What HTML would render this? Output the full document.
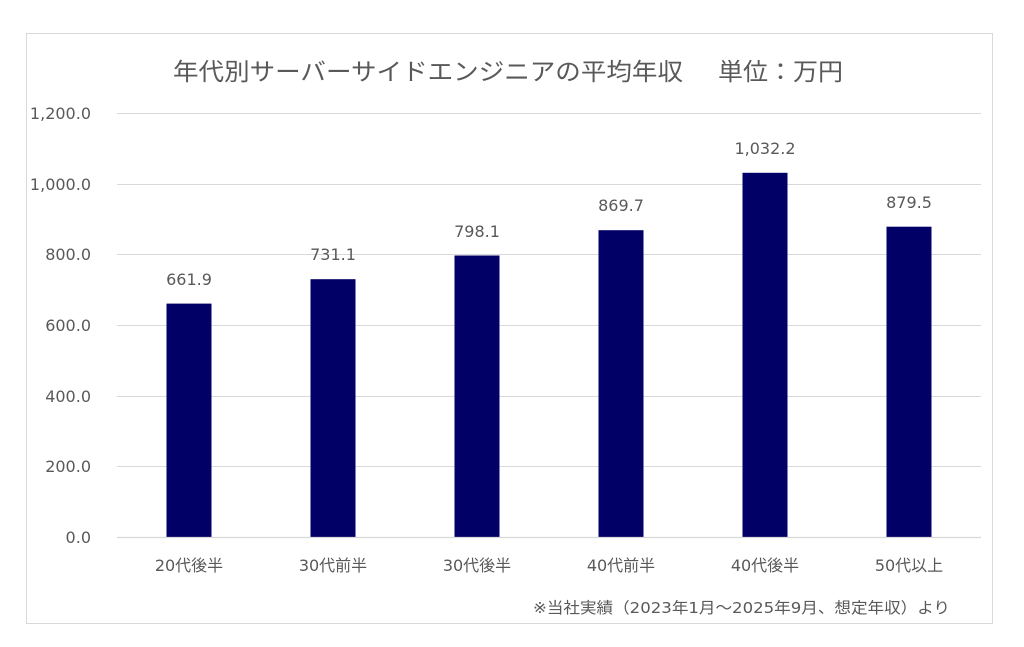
<!DOCTYPE html>
<html>
<head>
<meta charset="utf-8">
<style>
  html,body{margin:0;padding:0;background:#fff;}
  svg{display:block;}
  text{fill:#595959;}
  .n{font-family:"DejaVu Sans","Liberation Sans","Noto Sans CJK JP",sans-serif;font-size:16px;}
  .j{font-family:"DejaVu Sans","Noto Sans CJK JP",sans-serif;font-size:16px;}
</style>
</head>
<body>
<svg width="1024" height="647" viewBox="0 0 1024 647" xmlns="http://www.w3.org/2000/svg">
  <rect x="0" y="0" width="1024" height="647" fill="#fff"/>
  <rect x="26.5" y="33.5" width="966" height="590" fill="#fff" stroke="#d9d9d9" stroke-width="1"/>

  <!-- title -->
  <text x="173" y="80" font-family="'Noto Sans CJK JP',sans-serif" font-size="24" textLength="510" lengthAdjust="spacingAndGlyphs">年代別サーバーサイドエンジニアの平均年収</text>
  <text x="718" y="80" font-family="'Noto Sans CJK JP',sans-serif" font-size="24" textLength="125" lengthAdjust="spacingAndGlyphs">単位：万円</text>

  <!-- gridlines -->
  <g stroke="#d9d9d9" stroke-width="1">
    <line x1="117" y1="113.5" x2="981" y2="113.5"/>
    <line x1="117" y1="184.5" x2="981" y2="184.5"/>
    <line x1="117" y1="254.5" x2="981" y2="254.5"/>
    <line x1="117" y1="325.5" x2="981" y2="325.5"/>
    <line x1="117" y1="396.5" x2="981" y2="396.5"/>
    <line x1="117" y1="466.5" x2="981" y2="466.5"/>
  </g>

  <!-- y labels -->
  <g class="n" text-anchor="end">
    <text x="91" y="119">1,200.0</text>
    <text x="91" y="190">1,000.0</text>
    <text x="91" y="260">800.0</text>
    <text x="91" y="331">600.0</text>
    <text x="91" y="402">400.0</text>
    <text x="91" y="472">200.0</text>
    <text x="91" y="543">0.0</text>
  </g>

  <!-- bars -->
  <g fill="#000066">
    <rect x="166.5" y="303.6" width="45" height="233.9"/>
    <rect x="310.5" y="279.2" width="45" height="258.3"/>
    <rect x="454.5" y="255.5" width="45" height="282.0"/>
    <rect x="598.5" y="230.2" width="45" height="307.3"/>
    <rect x="742.5" y="172.8" width="45" height="364.7"/>
    <rect x="886.5" y="226.7" width="45" height="310.8"/>
  </g>

  <!-- baseline -->
  <line x1="117" y1="537.5" x2="981" y2="537.5" stroke="#d9d9d9" stroke-width="1.2"/>

  <!-- data labels -->
  <g class="n" text-anchor="middle">
    <text x="189" y="285">661.9</text>
    <text x="333" y="260">731.1</text>
    <text x="477" y="237">798.1</text>
    <text x="621" y="211">869.7</text>
    <text x="765" y="154">1,032.2</text>
    <text x="909" y="208">879.5</text>
  </g>

  <!-- category labels -->
  <g class="j" text-anchor="middle">
    <text x="189" y="571">20代後半</text>
    <text x="333" y="571">30代前半</text>
    <text x="477" y="571">30代後半</text>
    <text x="621" y="571">40代前半</text>
    <text x="765" y="571">40代後半</text>
    <text x="909" y="571">50代以上</text>
  </g>

  <!-- footnote -->
  <text x="533" y="613" font-family="'DejaVu Sans','Noto Sans CJK JP',sans-serif" font-size="15.5" textLength="417" lengthAdjust="spacingAndGlyphs">※当社実績（2023年1月～2025年9月、想定年収）より</text>
</svg>
</body>
</html>
